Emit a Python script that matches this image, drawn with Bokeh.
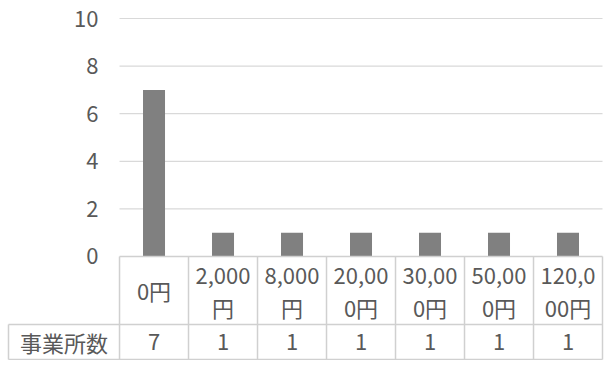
from bokeh.plotting import figure
from bokeh.models import ColumnDataSource, Range1d, LinearAxis, FixedTicker
from bokeh.core.properties import value
from bokeh.embed import file_html
from bokeh.resources import INLINE

# ---- data ----
categories = ["0円", "2,000\n円", "8,000\n円", "20,00\n0円", "30,00\n0円", "50,00\n0円", "120,0\n00円"]
counts = [7, 1, 1, 1, 1, 1, 1]
y_ticks = [0, 2, 4, 6, 8, 10]
row_label = "事業所数"

# ---- style ----
FONT = "Noto Sans CJK JP"
FS = "22px"
TEXT = "#595959"
GRID = "#d9d9d9"
BORDER = "#d0d0d0"
BAR = "#808080"

n = len(categories)
xs = [i + 0.5 for i in range(n)]
src = ColumnDataSource(dict(x=xs, count=counts, label=categories,
                            count_txt=[str(c) for c in counts]))

HEAD_L = -1.609    # left edge of header cell
ROW1 = -2.857      # bottom of category row
ROW2 = -4.328      # bottom of data row

p = figure(width=604, height=360, output_backend="svg", toolbar_location=None,
           x_range=Range1d(-1.725, 7.029), y_range=Range1d(-4.370, 10.756),
           x_axis_location=None, y_axis_location=None,
           min_border=0, outline_line_color=None,
           background_fill_color="white", border_fill_color="white")
p.xgrid.visible = False
p.ygrid.visible = False

# horizontal gridlines (from tick values, excluding 0 which is the table top)
gy = [t for t in y_ticks if t != 0]
p.segment(x0=[0] * len(gy), x1=[n] * len(gy), y0=gy, y1=gy,
          line_color=GRID, line_width=1.2)

# bars
p.vbar(x="x", top="count", width=0.319, bottom=0, source=src,
       fill_color=BAR, line_color=None)

# table borders
hx0 = [0, HEAD_L, HEAD_L]
hx1 = [n, n, n]
hy = [0, ROW1, ROW2]
p.segment(x0=hx0, x1=hx1, y0=hy, y1=hy, line_color=BORDER, line_width=1.5)
vx = list(range(n + 1))
p.segment(x0=vx, x1=vx, y0=[0] * len(vx), y1=[ROW2] * len(vx),
          line_color=BORDER, line_width=1.5)
p.segment(x0=[HEAD_L], x1=[HEAD_L], y0=[ROW1], y1=[ROW2],
          line_color=BORDER, line_width=1.5)

# table texts
p.text(x="x", y=ROW1 / 2, text="label", source=src,
       text_font=value(FONT), text_font_size=value(FS), text_color=TEXT,
       text_align="center", text_baseline="middle", text_line_height=1.05)
p.text(x="x", y=(ROW1 + ROW2) / 2, text="count_txt", source=src,
       text_font=value(FONT), text_font_size=value(FS), text_color=TEXT,
       text_align="center", text_baseline="middle")
p.text(x=[HEAD_L / 2], y=[(ROW1 + ROW2) / 2], text=[row_label],
       text_font=value(FONT), text_font_size=value(FS), text_color=TEXT,
       text_align="center", text_baseline="middle")

# y axis
yaxis = LinearAxis(fixed_location=0, ticker=FixedTicker(ticks=y_ticks),
                   axis_line_color=None, major_tick_line_color=None,
                   minor_tick_line_color=None, major_label_standoff=15,
                   major_label_text_font=FONT, major_label_text_font_size=FS,
                   major_label_text_color=TEXT)
p.add_layout(yaxis, "left")

open("out.html", "w").write(file_html(p, INLINE))
